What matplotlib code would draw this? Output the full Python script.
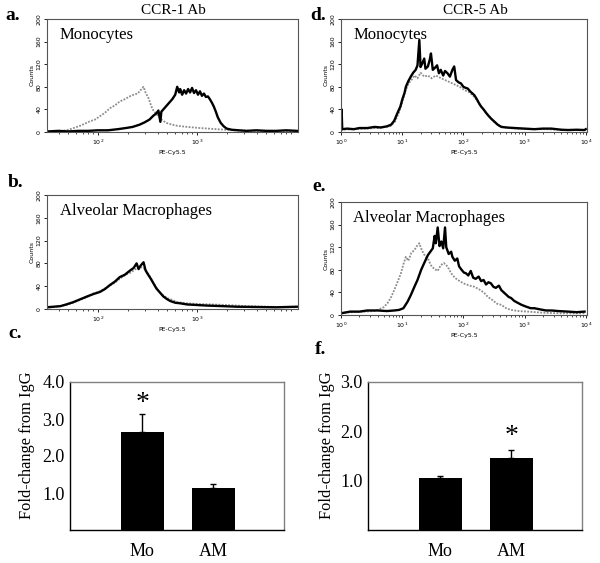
import matplotlib

matplotlib.use("Agg")
import matplotlib.pyplot as plt
import numpy as np
from matplotlib.ticker import FixedLocator, LogLocator, NullFormatter

SERIF = "Liberation Serif"

# histogram traces: (log10 PE-Cy5.5, counts)
a_ab = [(1.49, 1), (1.60, 2), (1.70, 1), (1.80, 2), (1.90, 2), (2.00, 3), (2.10, 3), (2.20, 5),
        (2.28, 7), (2.35, 9), (2.42, 13), (2.47, 17), (2.52, 22), (2.56, 29), (2.59, 33), (2.61, 38),
        (2.63, 18), (2.64, 36), (2.66, 40), (2.69, 46), (2.72, 52), (2.75, 58), (2.78, 66), (2.80, 80),
        (2.82, 70), (2.83, 76), (2.85, 66), (2.87, 74), (2.89, 68), (2.91, 76), (2.93, 70), (2.95, 78),
        (2.97, 69), (2.99, 74), (3.01, 66), (3.03, 72), (3.05, 64), (3.07, 68), (3.09, 62), (3.11, 63),
        (3.13, 58), (3.15, 52), (3.17, 45), (3.19, 36), (3.21, 26), (3.24, 16), (3.27, 10), (3.30, 6),
        (3.35, 4), (3.42, 3), (3.50, 2), (3.60, 3), (3.70, 2), (3.80, 2), (3.90, 3), (4.01, 2)]
a_igg = [(1.49, 0), (1.60, 1), (1.68, 3), (1.72, 5), (1.77, 8), (1.82, 11), (1.87, 15), (1.92, 19),
         (1.97, 22), (2.02, 28), (2.07, 34), (2.12, 42), (2.17, 47), (2.22, 54), (2.27, 58), (2.32, 63),
         (2.36, 66), (2.40, 68), (2.43, 74), (2.46, 80), (2.48, 70), (2.51, 60), (2.54, 45), (2.56, 38),
         (2.60, 30), (2.64, 22), (2.69, 16), (2.75, 13), (2.80, 11), (2.90, 9), (3.03, 7), (3.20, 5),
         (3.37, 3), (3.55, 2), (3.70, 2), (4.01, 1)]

b_ab = [(1.48, 3), (1.55, 4), (1.62, 5), (1.68, 8), (1.75, 12), (1.82, 17), (1.89, 22), (1.95, 26),
        (2.02, 30), (2.07, 35), (2.12, 42), (2.17, 48), (2.22, 56), (2.27, 60), (2.32, 67), (2.36, 72),
        (2.39, 80), (2.41, 70), (2.43, 76), (2.46, 82), (2.48, 68), (2.50, 62), (2.53, 54), (2.56, 45),
        (2.59, 36), (2.63, 28), (2.66, 22), (2.70, 17), (2.73, 14), (2.78, 11), (2.83, 10), (2.90, 8),
        (3.00, 7), (3.10, 6), (3.26, 5), (3.40, 4), (3.60, 3.5), (3.80, 3), (4.01, 4)]
b_igg = [(1.48, 2), (1.58, 4), (1.68, 7), (1.75, 11), (1.82, 16), (1.89, 21), (1.95, 27), (2.02, 31),
         (2.10, 39), (2.17, 46), (2.22, 53), (2.28, 60), (2.33, 64), (2.38, 70), (2.42, 74), (2.46, 72),
         (2.50, 64), (2.54, 52), (2.58, 40), (2.62, 30), (2.66, 24), (2.70, 19), (2.75, 16), (2.80, 12),
         (2.90, 10), (3.00, 9), (3.15, 8), (3.30, 7), (3.50, 5), (3.70, 4), (4.01, 3)]

d_ab = [(0.00, 6), (0.01, 40), (0.02, 5), (0.10, 6), (0.21, 5), (0.30, 7), (0.43, 7), (0.55, 9),
        (0.65, 8), (0.75, 10), (0.82, 13), (0.87, 20), (0.92, 33), (0.97, 45), (1.00, 57), (1.04, 70),
        (1.06, 80), (1.10, 90), (1.14, 98), (1.18, 105), (1.22, 110), (1.25, 118), (1.28, 163),
        (1.30, 115), (1.33, 122), (1.36, 130), (1.38, 112), (1.42, 116), (1.45, 128), (1.47, 139),
        (1.50, 110), (1.53, 113), (1.57, 118), (1.60, 104), (1.63, 110), (1.67, 100), (1.70, 108),
        (1.74, 104), (1.78, 98), (1.82, 110), (1.85, 116), (1.88, 92), (1.92, 88), (1.96, 86),
        (2.00, 80), (2.04, 78), (2.07, 77), (2.11, 72), (2.15, 68), (2.18, 65), (2.22, 58), (2.26, 50),
        (2.29, 45), (2.33, 40), (2.37, 34), (2.40, 30), (2.45, 24), (2.51, 18), (2.56, 13), (2.62, 9),
        (2.70, 8), (2.84, 7), (3.00, 6), (3.16, 5), (3.30, 6), (3.44, 6), (3.60, 4), (3.71, 3.5),
        (3.85, 4), (3.98, 3.5), (4.00, 5)]
d_igg = [(0.00, 4), (0.20, 5), (0.40, 6), (0.60, 7), (0.80, 10), (0.88, 18), (0.95, 35), (1.00, 52),
         (1.05, 72), (1.10, 85), (1.15, 92), (1.20, 100), (1.25, 95), (1.30, 105), (1.36, 98),
         (1.42, 100), (1.48, 95), (1.55, 100), (1.62, 96), (1.70, 92), (1.78, 88), (1.86, 84),
         (1.94, 80), (2.02, 74), (2.10, 70), (2.18, 62), (2.26, 50), (2.34, 38), (2.42, 28), (2.50, 18),
         (2.60, 10), (2.75, 7), (3.00, 5), (3.30, 5), (3.60, 4), (4.00, 3)]

e_ab = [(0.00, 3), (0.15, 6), (0.30, 6), (0.43, 8), (0.60, 8), (0.75, 7), (0.87, 8), (0.95, 9),
        (1.02, 12), (1.09, 24), (1.14, 35), (1.20, 50), (1.25, 62), (1.31, 80), (1.36, 92), (1.42, 106),
        (1.46, 112), (1.50, 118), (1.53, 140), (1.55, 127), (1.58, 155), (1.61, 122), (1.64, 130),
        (1.67, 118), (1.70, 155), (1.72, 120), (1.76, 108), (1.80, 112), (1.82, 103), (1.86, 96),
        (1.90, 100), (1.93, 86), (1.97, 80), (2.01, 75), (2.04, 74), (2.08, 70), (2.12, 78), (2.16, 66),
        (2.20, 64), (2.25, 68), (2.29, 60), (2.33, 62), (2.37, 54), (2.41, 58), (2.45, 56), (2.49, 50),
        (2.53, 48), (2.58, 52), (2.62, 44), (2.66, 40), (2.70, 36), (2.74, 32), (2.78, 30), (2.83, 25),
        (2.88, 22), (2.95, 18), (3.02, 15), (3.10, 12), (3.16, 12), (3.25, 10), (3.35, 8), (3.44, 8),
        (3.55, 7), (3.71, 6), (3.85, 5), (3.98, 6)]
e_igg = [(0.00, 4), (0.20, 5), (0.40, 6), (0.55, 7), (0.60, 9), (0.70, 14), (0.76, 21), (0.82, 32),
         (0.87, 44), (0.93, 60), (0.98, 74), (1.02, 90), (1.06, 103), (1.10, 96), (1.15, 110),
         (1.20, 115), (1.24, 122), (1.28, 127), (1.32, 115), (1.37, 105), (1.42, 100), (1.47, 88),
         (1.52, 82), (1.58, 78), (1.63, 88), (1.68, 92), (1.74, 86), (1.80, 74), (1.86, 66), (1.91, 62),
         (2.00, 56), (2.10, 52), (2.18, 50), (2.28, 44), (2.35, 38), (2.40, 32), (2.48, 26), (2.55, 20),
         (2.62, 18), (2.70, 12), (2.78, 9), (2.90, 7), (3.05, 6), (3.30, 4), (3.60, 3), (3.98, 3)]

# fold-change bars
groups = ["Mo", "AM"]
ccr1_mean = [2.64, 1.13]
ccr1_err = [0.49, 0.10]
ccr5_mean = [1.06, 1.45]
ccr5_err = [0.04, 0.17]
ccr1_star = (0, 3.43)
ccr5_star = (1, 1.89)


def px_axes(fig, x0, y0, x1, y1):
    W, H = 600, 563
    return fig.add_axes([x0 / W, 1 - y1 / H, (x1 - x0) / W, (y1 - y0) / H])


def histo(ax, ab, igg, xlim, majors, label):
    x, y = np.array(igg).T
    ax.plot(10 ** x, y, color="#8c8c8c", lw=1.3, ls=(0, (1, 0.8)))
    x, y = np.array(ab).T
    ax.plot(10 ** x, y, color="black", lw=1.7)
    ax.set_xscale("log")
    ax.set_xlim(10 ** xlim[0], 10 ** xlim[1])
    ax.set_ylim(0, 200)
    ax.xaxis.set_major_locator(FixedLocator(majors))
    ax.xaxis.set_minor_locator(LogLocator(base=10, subs=np.arange(2, 10)))
    ax.xaxis.set_minor_formatter(NullFormatter())
    ax.set_xticklabels([f"$10^{{{int(np.log10(m))}}}$" for m in majors])
    ax.set_yticks(range(0, 201, 40))
    ax.tick_params(axis="both", which="major", labelsize=4.5, length=2.5, width=0.6, pad=1.5)
    ax.tick_params(axis="x", which="minor", length=1.5, width=0.5)
    plt.setp(ax.get_yticklabels(), rotation=90, va="center")
    ax.set_xlabel("PE-Cy5.5", fontsize=4.5, labelpad=2)
    ax.set_ylabel("Counts", fontsize=4.5, labelpad=1)
    for s in ax.spines.values():
        s.set_color("#555555")
        s.set_linewidth(0.8)
    ax.text(0.05, 0.93, label, transform=ax.transAxes, fontsize=12, family=SERIF, va="top")


def bars(ax, means, errs, ymax, star, label_x):
    xs = np.arange(len(groups))
    ax.bar(xs, means, width=0.61, color="black")
    ax.errorbar(xs, means, yerr=[np.zeros(len(errs)), errs], fmt="none", ecolor="black",
                elinewidth=1.0, capsize=2.5, capthick=1.0)
    ax.set_xlim(-1.02, 2.0)
    ax.set_ylim(0, ymax)
    ax.set_xticks(xs)
    ax.set_xticklabels(groups, fontsize=13, family=SERIF)
    ticks = np.arange(1, ymax + 0.5, 1.0)
    ax.set_yticks(ticks)
    ax.set_yticklabels([f"{t:.1f}" for t in ticks], fontsize=13, family=SERIF)
    ax.tick_params(axis="x", length=0, pad=9)
    ax.tick_params(axis="y", length=0, pad=4)
    ax.set_ylabel("Fold-change from IgG", fontsize=11.8, family=SERIF)
    ax.yaxis.set_label_coords(label_x, 0.57)
    for k in ("top", "right"):
        ax.spines[k].set_color("#808080")
        ax.spines[k].set_linewidth(1.0)
    for k in ("left", "bottom"):
        ax.spines[k].set_color("black")
        ax.spines[k].set_linewidth(1.0)
    ax.text(star[0], star[1], "*", fontsize=20, family=SERIF, ha="center", va="center")


fig = plt.figure(figsize=(6, 5.63), dpi=100)

ax_a = px_axes(fig, 47, 19, 298, 132)
histo(ax_a, a_ab, a_igg, (1.485, 4.02), [100, 1000], "Monocytes")
ax_d = px_axes(fig, 341, 19, 587, 132)
histo(ax_d, d_ab, d_igg, (0.0, 4.02), [1, 10, 100, 1000, 10000], "Monocytes")
ax_b = px_axes(fig, 47, 195, 298, 309)
histo(ax_b, b_ab, b_igg, (1.485, 4.02), [100, 1000], "Alveolar Macrophages")
ax_e = px_axes(fig, 341, 202, 587, 315)
histo(ax_e, e_ab, e_igg, (0.0, 4.02), [1, 10, 100, 1000, 10000], "Alveolar Macrophages")

ax_c = px_axes(fig, 70, 382, 284, 530)
bars(ax_c, ccr1_mean, ccr1_err, 4.0, ccr1_star, -0.164)
ax_f = px_axes(fig, 368, 382, 582, 530)
bars(ax_f, ccr5_mean, ccr5_err, 3.0, ccr5_star, -0.154)

fig.text(173 / 600, 1 - 10 / 563, "CCR-1 Ab", fontsize=11, family=SERIF, ha="center", va="center")
fig.text(475 / 600, 1 - 10 / 563, "CCR-5 Ab", fontsize=11, family=SERIF, ha="center", va="center")
for lab, x, y in [("a.", 5, 16), ("d.", 310, 15), ("b.", 8, 183), ("e.", 312, 186),
                  ("c.", 8, 333), ("f.", 315, 350)]:
    fig.text(x / 600, 1 - y / 563, lab, fontsize=14, family=SERIF, weight="bold", va="center")

fig.savefig("out.png", dpi=100)
